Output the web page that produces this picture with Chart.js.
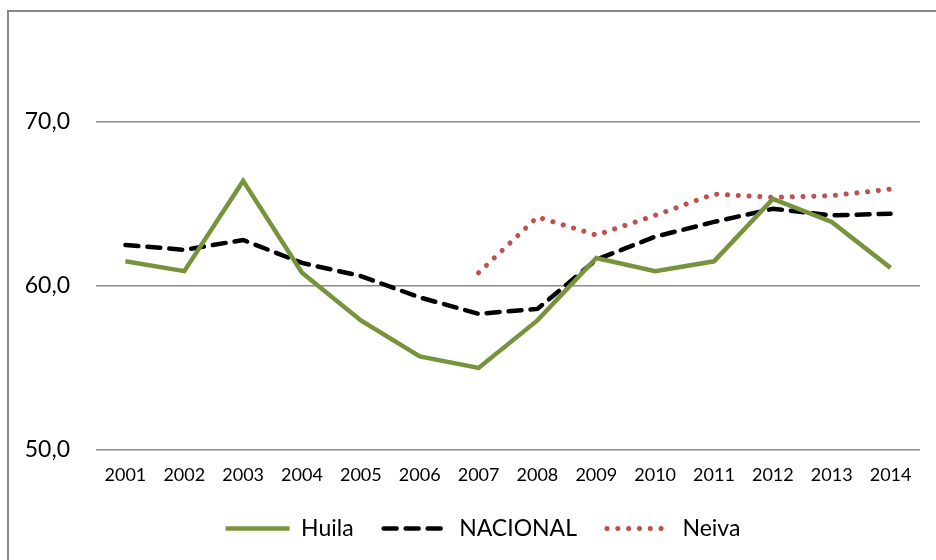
<!DOCTYPE html>
<html>
<head>
<meta charset="utf-8">
<script src="https://cdn.jsdelivr.net/npm/chart.js@4/dist/chart.umd.min.js"></script>
<style>
  html, body { margin: 0; padding: 0; background: #fff; }
  #frame { position: absolute; left: 7px; top: 10px; width: 960px; height: 600px;
           border-left: 2px solid #898989; border-top: 2px solid #898989; }
  #wrap { position: absolute; left: 0; top: 0; width: 936px; height: 560px; }
</style>
</head>
<body>
<div id="frame"></div>
<div id="wrap"><canvas id="myChart"></canvas></div>
<script>
var years = ['2001','2002','2003','2004','2005','2006','2007','2008','2009','2010','2011','2012','2013','2014'];
var huila = [61.5, 60.9, 66.4, 60.8, 57.9, 55.7, 55.0, 57.9, 61.7, 60.9, 61.5, 65.3, 63.9, 61.1];
var nacional = [62.5, 62.2, 62.8, 61.4, 60.6, 59.3, 58.3, 58.6, 61.6, 63.0, 63.9, 64.7, 64.3, 64.4];
var neiva = [null, null, null, null, null, null, 60.8, 64.2, 63.1, 64.3, 65.6, 65.4, 65.5, 65.9];
var yTicks = [50, 60, 70];

function legendLabels(chart) {
  var items = Chart.defaults.plugins.legend.labels.generateLabels(chart);
  items.forEach(function(item) {
    var ds = chart.data.datasets[item.datasetIndex];
    item.lineDash = ds.borderDash || [];
    item.lineCap = ds.borderCapStyle || 'butt';
    item.lineWidth = ds.borderWidth;
    item.strokeStyle = ds.borderColor;
    item.pointStyle = 'line';
  });
  return items;
}

// fixed legend height (wider item spacing) and legend centred under the plot
var legendTweak = {
  id: 'legendTweak',
  afterInit: function(chart) {
    var lg = chart.legend;
    if (lg && !lg._fixed) {
      var fit = lg.fit;
      lg.fit = function() { fit.call(this); this.height = 75; };
      var draw = lg.draw;
      lg.draw = function() {
        var c = this.ctx;
        c.save();
        c.translate(23, 2);
        draw.call(this);
        c.restore();
      };
      lg._fixed = true;
    }
  }
};

var ctx = document.getElementById('myChart').getContext('2d');
var chart = new Chart(ctx, {
  type: 'line',
  data: {
    labels: years,
    datasets: [{
      label: 'Huila',
      data: huila,
      borderColor: '#77933C',
      backgroundColor: '#77933C',
      borderWidth: 4.5,
      pointRadius: 0
    }, {
      label: 'NACIONAL',
      data: nacional,
      borderColor: '#000000',
      backgroundColor: '#000000',
      borderWidth: 4.5,
      borderDash: [13, 9],
      borderCapStyle: 'round',
      pointRadius: 0
    }, {
      label: 'Neiva',
      data: neiva,
      borderColor: '#C0504D',
      backgroundColor: '#C0504D',
      borderWidth: 5,
      borderDash: [0.1, 10.7],
      borderCapStyle: 'round',
      pointRadius: 0
    }]
  },
  plugins: [legendTweak],
  options: {
    responsive: true,
    maintainAspectRatio: false,
    animation: false,
    layout: { padding: { left: 0, right: 16, top: 39, bottom: 0 } },
    scales: {
      x: {
        offset: true,
        grid: { display: false, drawTicks: false },
        border: { display: false },
        ticks: { color: '#000', font: { family: 'Lato', size: 18 }, padding: 14 },
        afterFit: function(scale) { scale.height = 35; }
      },
      y: {
        min: 50,
        max: 75,
        afterBuildTicks: function(scale) {
          scale.ticks = yTicks.map(function(v) { return { value: v }; });
        },
        grid: { color: '#898989', lineWidth: 1.5, drawTicks: false },
        border: { display: false },
        ticks: {
          color: '#000',
          font: { family: 'Lato', size: 23 },
          padding: 26,
          callback: function(v) { return v.toFixed(1).replace('.', ','); }
        },
        afterFit: function(scale) { scale.width = 96; }
      }
    },
    plugins: {
      legend: {
        position: 'bottom',
        labels: {
          usePointStyle: true,
          pointStyleWidth: 64,
          boxWidth: 64,
          color: '#000',
          font: { family: 'Lato', size: 23 },
          padding: 30,
          generateLabels: legendLabels
        }
      },
      tooltip: { enabled: false }
    }
  }
});
</script>
</body>
</html>
